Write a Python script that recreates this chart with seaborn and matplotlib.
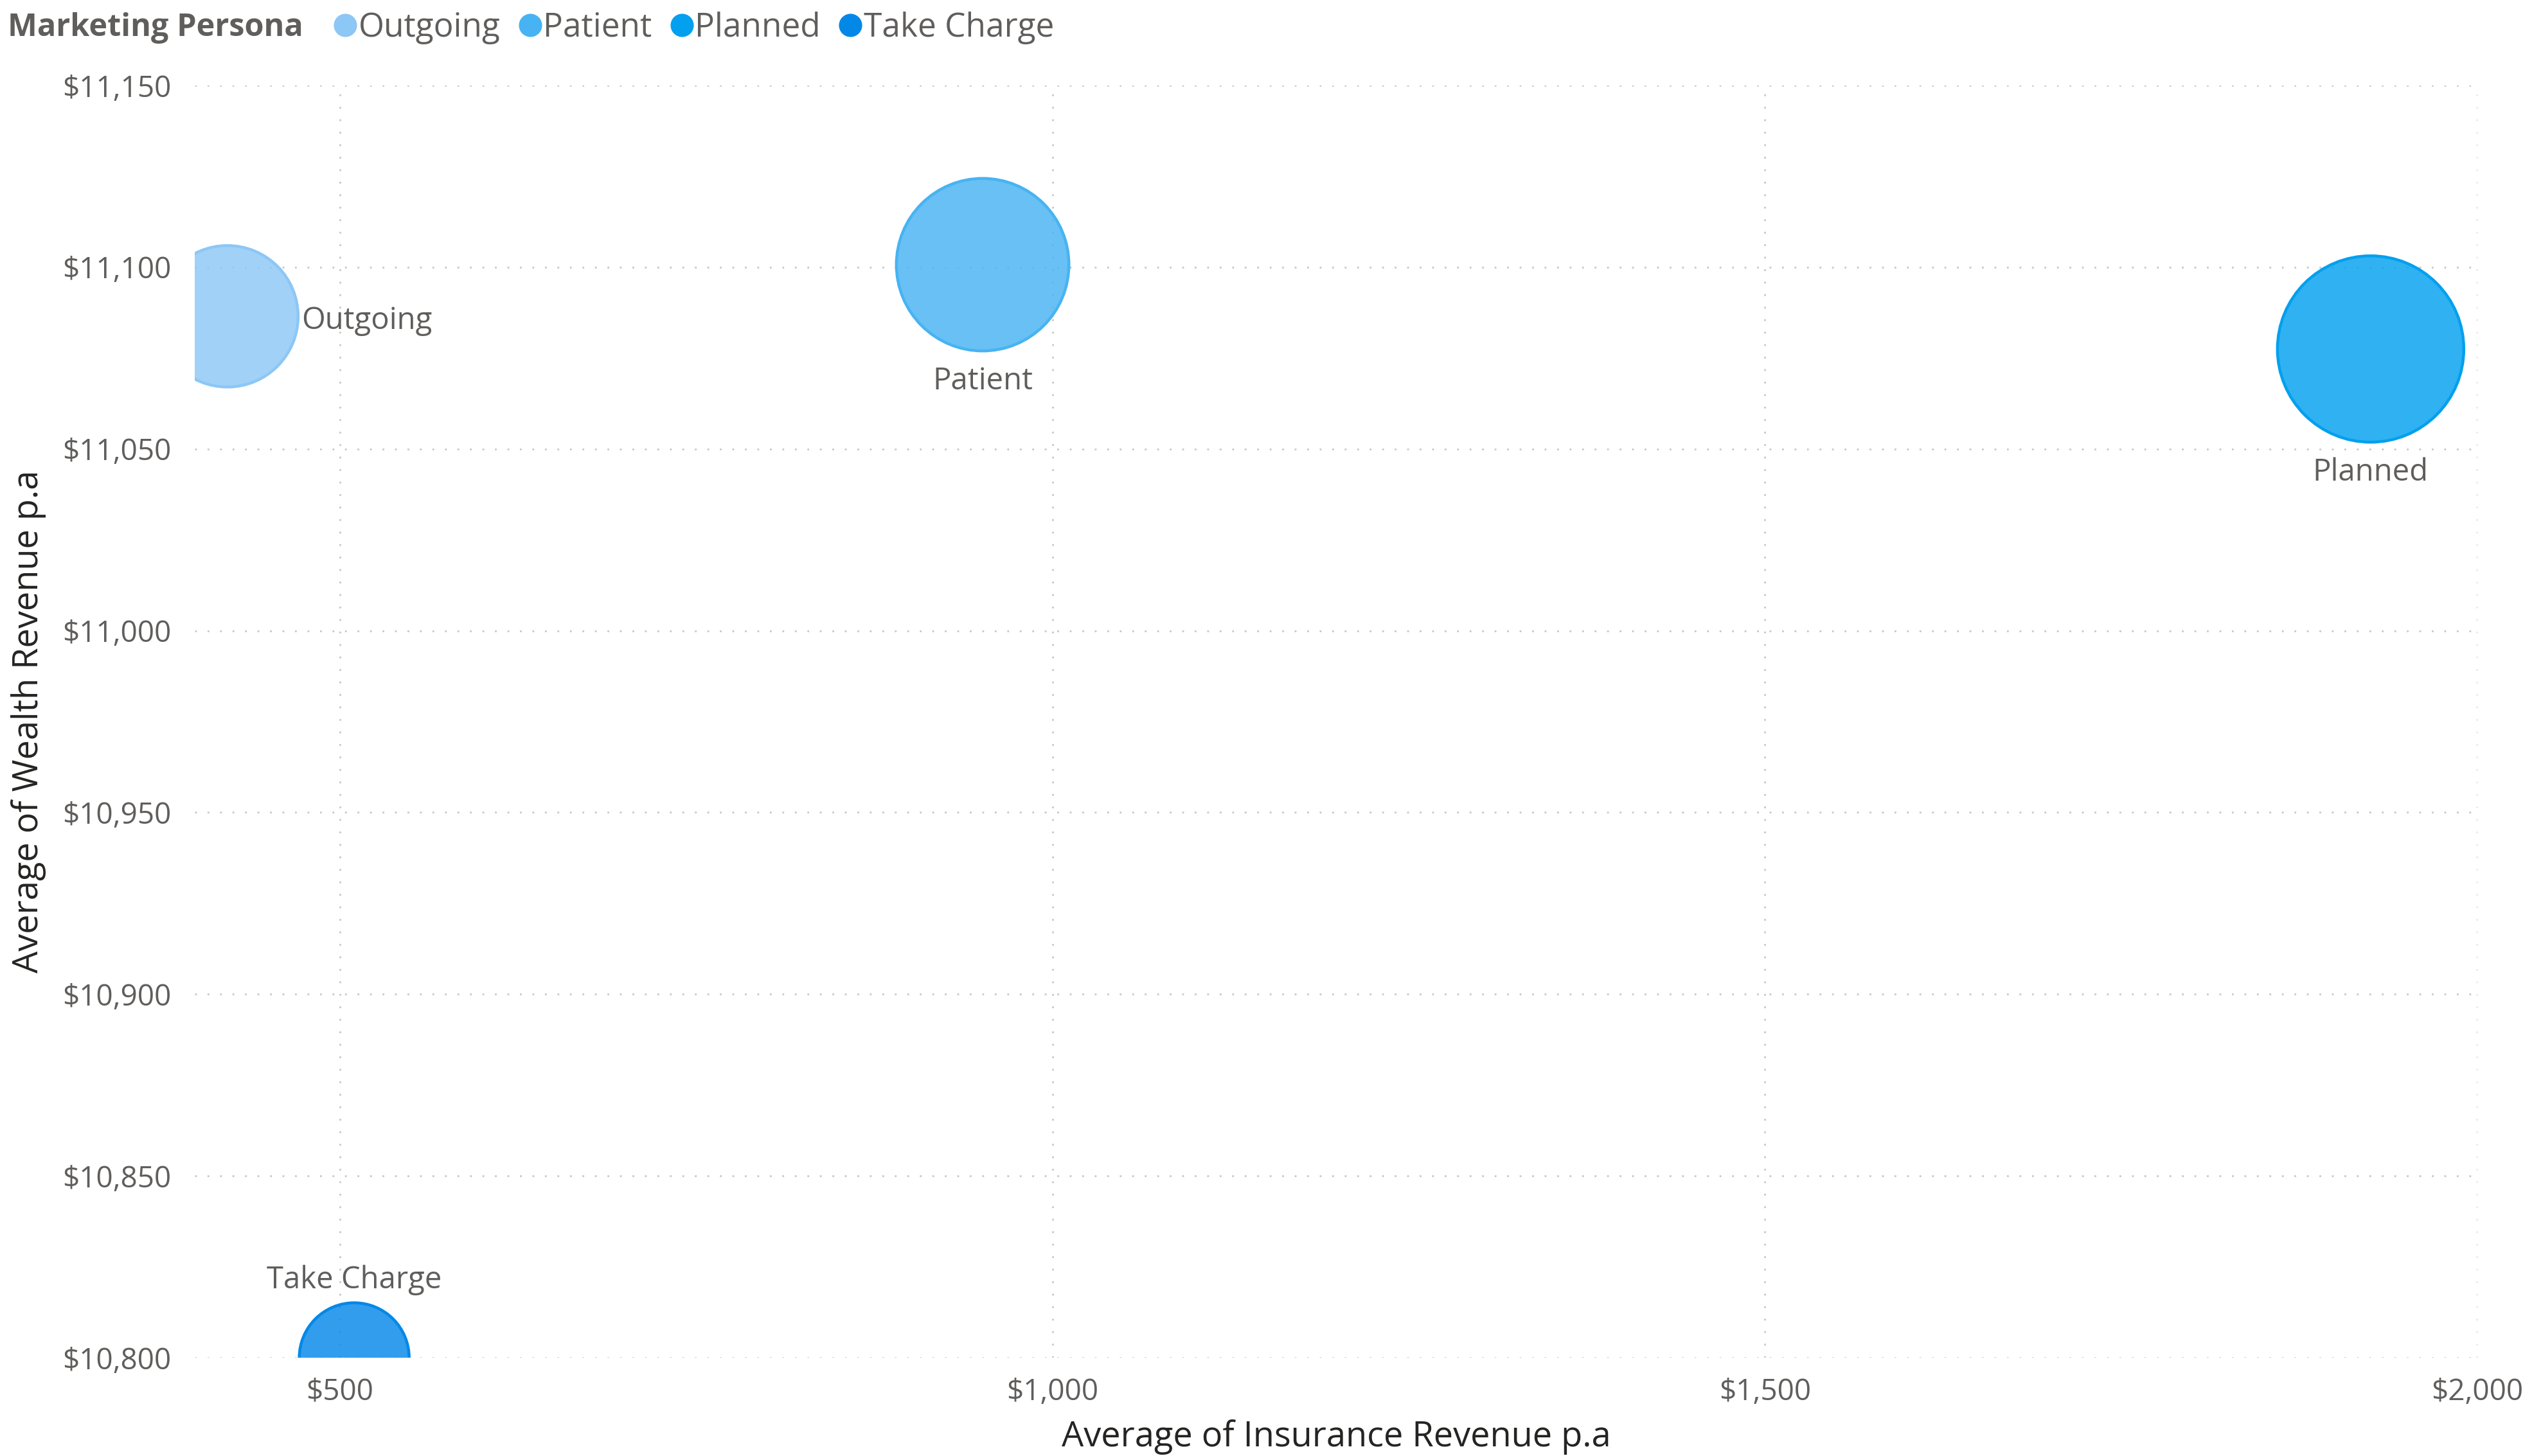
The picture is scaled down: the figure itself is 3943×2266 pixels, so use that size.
import numpy as np
import pandas as pd
import seaborn as sns
import matplotlib
matplotlib.use("Agg")
import matplotlib.pyplot as plt
from matplotlib.lines import Line2D
from matplotlib.ticker import FuncFormatter, FixedLocator

# ---- data ----
personas = ["Outgoing", "Patient", "Planned", "Take Charge"]
insurance_rev = [421, 951, 1925, 510]
wealth_rev = [11086.5, 11100.7, 11077.5, 10800.0]
bubble_size = [121, 180, 210, 73]
colors = ["#8CC7F6", "#47B3F2", "#02A0EE", "#0388E8"]
x_ticks = [500, 1000, 1500, 2000]
y_ticks = [10800, 10850, 10900, 10950, 11000, 11050, 11100, 11150]
label_side = ["right", "below", "below", "above"]

df = pd.DataFrame({"Marketing Persona": personas,
                   "Insurance": insurance_rev,
                   "Wealth": wealth_rev,
                   "Size": bubble_size})

sns.set_theme(style="white")
plt.rcParams["font.family"] = ["Open Sans", "DejaVu Sans"]

DPI = 200
fig = plt.figure(figsize=(3943 / DPI, 2266 / DPI), dpi=DPI)
ax = fig.add_axes([0.0768, 0.0675, 0.9777 - 0.0768, 0.9413 - 0.0675])

k = 51.9  # points^2 per size unit
norm_max = 250
sns.scatterplot(data=df, x="Insurance", y="Wealth", hue="Marketing Persona",
                size="Size", sizes=(0, k * norm_max), size_norm=(0, norm_max),
                palette=colors, hue_order=personas, legend=False, ax=ax,
                zorder=3)

coll = ax.collections[0]
fc = coll.get_facecolors().copy()
ec = fc.copy()
fc[:, 3] = 0.82
coll.set_facecolors(fc)
coll.set_edgecolors(ec)
coll.set_linewidths(1.6)
coll.set_clip_on(True)

ax.set_xlim(398, 2000)
ax.set_ylim(10800, 11150)
ax.xaxis.set_major_locator(FixedLocator(x_ticks))
ax.yaxis.set_major_locator(FixedLocator(y_ticks))
ax.xaxis.set_major_formatter(FuncFormatter(lambda v, p: f"${v:,.0f}"))
ax.yaxis.set_major_formatter(FuncFormatter(lambda v, p: f"${v:,.0f}"))

for s in ax.spines.values():
    s.set_visible(False)
ax.grid(True, color="#C8C8C8", linestyle=(0, (1, 6)), linewidth=1.0, zorder=0)
ax.tick_params(axis="both", length=0, labelsize=16.5, colors="#605E5C")
ax.tick_params(axis="y", pad=13)
ax.tick_params(axis="x", pad=11)

ax.set_xlabel("Average of Insurance Revenue p.a", fontsize=19.5, color="#252423", labelpad=7)
ax.set_ylabel("Average of Wealth Revenue p.a", fontsize=19.5, color="#252423", labelpad=9)

# data labels
for name, xv, yv, sz, side in zip(personas, insurance_rev, wealth_rev, bubble_size, label_side):
    r = np.sqrt(k * sz) / 2
    if side == "right":
        off, ha, va = (r + 2, -2.5), "left", "center"
    elif side == "below":
        off, ha, va = (0, -r - 8.5), "center", "top"
    else:
        off, ha, va = (0, r + 4), "center", "bottom"
    ax.annotate(name, (xv, yv), xytext=off, textcoords="offset points",
                ha=ha, va=va, fontsize=17, color="#605E5C", zorder=5,
                annotation_clip=False)

# legend
fig.text(0.003, 0.981, "Marketing Persona", fontsize=17.5, fontweight="bold",
         color="#605E5C", ha="left", va="center")
handles = [Line2D([0], [0], marker="o", linestyle="", markersize=12,
                  markerfacecolor=c, markeredgecolor=c) for c in colors]
fig.legend(handles, personas, loc="center left", bbox_to_anchor=(0.129, 0.981),
           ncol=4, frameon=False, fontsize=18.5, handletextpad=-0.15,
           columnspacing=0.35, handlelength=1.1, labelcolor="#605E5C",
           borderaxespad=0, borderpad=0)

fig.savefig("out.png", dpi=DPI)
